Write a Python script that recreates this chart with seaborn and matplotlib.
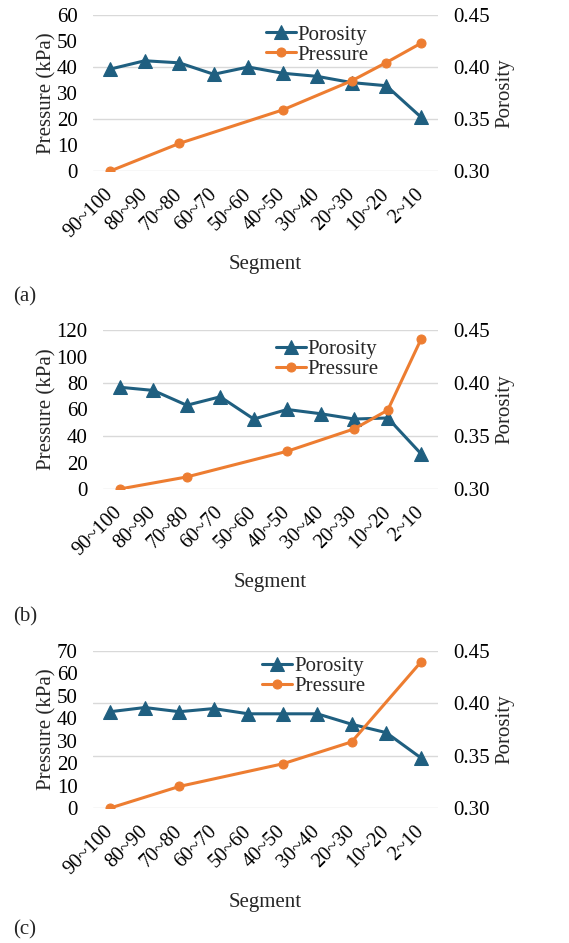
import numpy as np
import pandas as pd
import matplotlib
matplotlib.use("Agg")
import matplotlib.pyplot as plt
import seaborn as sns
from matplotlib.ticker import FormatStrFormatter

sns.set_theme(style="white")
plt.rcParams['font.family'] = ['Liberation Serif', 'DejaVu Serif']

segments = ["90~100", "80~90", "70~80", "60~70", "50~60", "40~50", "30~40", "20~30", "10~20", "2~10"]

porosity_a = [0.398, 0.406, 0.404, 0.393, 0.400, 0.394, 0.391, 0.385, 0.382, 0.352]
pressure_a = [0.0, None, 10.6, None, None, 23.5, None, 34.7, 41.7, 49.1]

porosity_b = [0.396, 0.393, 0.379, 0.387, 0.366, 0.375, 0.371, 0.366, 0.367, 0.333]
pressure_b = [0.0, None, 9.1, None, None, 28.5, None, 45.4, 59.5, 113.4]

porosity_c = [0.392, 0.396, 0.392, 0.395, 0.390, 0.390, 0.390, 0.380, 0.372, 0.348]
pressure_c = [0.0, None, 9.6, None, None, 19.7, None, 29.5, None, 65.0]

panel_labels = ["(a)", "(b)", "(c)"]
left_max = [60, 120, 70]
left_step = [10, 20, 10]

BLUE = "#1F5F80"
ORANGE = "#ED7D31"
GRID = "#D9D9D9"
FS = 15

W, H = 569, 943
fig = plt.figure(figsize=(W / 100, H / 100), dpi=100)

# axes boxes in pixels: left, top, right, bottom
boxes = [(93, 15, 438, 171), (103, 330, 438, 489), (93, 651, 438, 808)]
legend_anchor = [(0.50, 0.935), (0.515, 0.94), (0.49, 0.965)]
segment_y = [265, 583, 902]
label_y = [297, 617, 930]

datasets = [(porosity_a, pressure_a), (porosity_b, pressure_b), (porosity_c, pressure_c)]

for i, (por, pres) in enumerate(datasets):
    l, t, r, b = boxes[i]
    ax = fig.add_axes([l / W, 1 - b / H, (r - l) / W, (b - t) / H])
    ax2 = ax.twinx()

    df = pd.DataFrame({"x": np.arange(len(segments)), "seg": segments,
                       "Porosity": por, "Pressure": pres})
    dfp = df.dropna(subset=["Pressure"])

    sns.lineplot(data=dfp, x="x", y="Pressure", ax=ax, color=ORANGE, lw=2.2,
                 marker="o", markersize=6.5, markeredgecolor=ORANGE, label="Pressure",
                 legend=False, zorder=3)
    sns.lineplot(data=df, x="x", y="Porosity", ax=ax2, color=BLUE, lw=2.2,
                 marker="^", markersize=10, markeredgecolor=BLUE, label="Porosity",
                 legend=False, zorder=3)

    ax.set_zorder(ax2.get_zorder() + 1)
    ax.patch.set_visible(False)

    ax.set_xlim(-0.5, len(segments) - 0.5)
    ax.set_ylim(0, left_max[i])
    ax.set_yticks(np.arange(0, left_max[i] + 1, left_step[i]))
    ax2.set_ylim(0.30, 0.45)
    ax2.set_yticks([0.30, 0.35, 0.40, 0.45])
    ax2.yaxis.set_major_formatter(FormatStrFormatter("%.2f"))

    ax2.grid(axis="y", color=GRID, lw=1.0)
    ax2.set_axisbelow(True)
    for a in (ax, ax2):
        for s in a.spines.values():
            s.set_visible(False)
        a.tick_params(length=0, labelsize=FS, colors="black")

    ax.set_xticks(np.arange(len(segments)))
    ax.set_xticklabels(segments, rotation=45, ha="right", va="center",
                       rotation_mode="anchor", fontsize=14.5)
    ax.tick_params(axis="x", pad=15)
    ax.tick_params(axis="y", pad=11)
    ax2.tick_params(axis="y", pad=11)

    ax.set_xlabel("")
    ax.set_ylabel("Pressure (kPa)", fontsize=FS, labelpad=0)
    ax2.set_ylabel("Porosity", fontsize=FS, labelpad=4)

    h1, l1 = ax2.get_legend_handles_labels()
    h2, l2 = ax.get_legend_handles_labels()
    ax.legend(h1 + h2, l1 + l2, loc="upper left", bbox_to_anchor=legend_anchor[i],
              frameon=False, fontsize=FS, borderpad=0, borderaxespad=0,
              handlelength=1.45, handletextpad=0.1, labelspacing=0.02)

    fig.text((l + r) / 2 / W, 1 - segment_y[i] / H, "Segment", ha="center",
             va="center", fontsize=FS)
    fig.text(13 / W, 1 - label_y[i] / H, panel_labels[i], ha="left",
             va="center", fontsize=FS)

fig.savefig("out.png", dpi=100)
